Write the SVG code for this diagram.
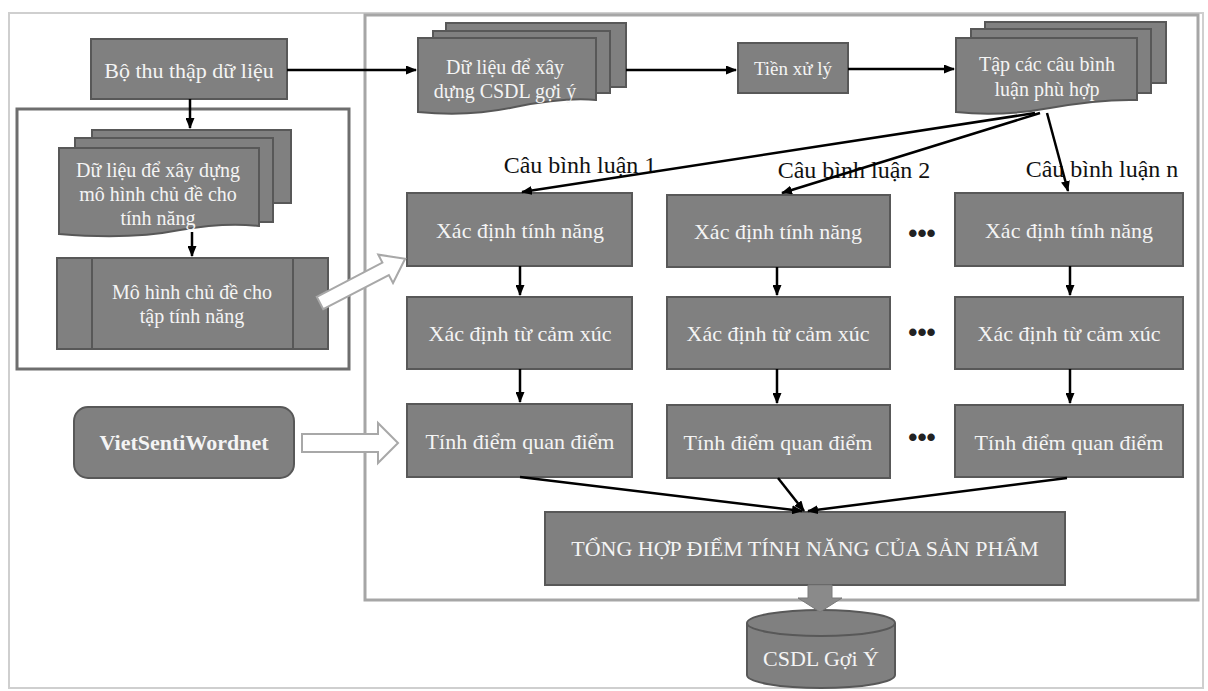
<svg xmlns="http://www.w3.org/2000/svg" width="1208" height="691" viewBox="0 0 1208 691">
<style>
.box{fill:#808080;stroke:#585858;stroke-width:2}
.t{font-family:"Liberation Serif",serif;fill:#f4f4f4;text-anchor:middle;dominant-baseline:central}
.t20{font-size:20px}
.t22{font-size:22px}
.lbl{font-family:"Liberation Serif",serif;font-size:24px;fill:#111;text-anchor:middle}
.dots{font-family:"Liberation Sans",sans-serif;font-size:26px;font-weight:bold;fill:#222;text-anchor:middle;dominant-baseline:central}
.con{fill:none;stroke:#000;stroke-width:2.5;marker-end:url(#ah)}
.hollow{fill:#fff;stroke:#a8a8a8;stroke-width:2}
</style>
<defs>
<marker id="ah" markerUnits="userSpaceOnUse" markerWidth="11" markerHeight="9" refX="10" refY="4.5" orient="auto">
<path d="M0,0 L11,4.5 L0,9 z" fill="#000"/>
</marker>
</defs>
<rect width="1208" height="691" fill="#fff"/>
<rect id="outer-frame" x="9" y="13" width="1194" height="675" fill="none" stroke="#cfcfcf" stroke-width="2"/>
<rect id="right-panel" x="365" y="15" width="833" height="585" fill="none" stroke="#a6a6a6" stroke-width="3"/>
<rect id="left-panel" x="17" y="109" width="332" height="260" fill="none" stroke="#6e6e6e" stroke-width="3"/>

<g id="bo-thu-thap">
<rect class="box" x="91" y="39" width="196" height="60"/>
<text class="t t22" x="189" y="70">Bộ thu thập dữ liệu</text>
</g>

<g id="du-lieu-mo-hinh">
<rect class="box" x="92" y="130" width="199" height="73"/>
<rect class="box" x="75" y="138" width="198" height="84"/>
<path class="box" d="M59,148 H259 V226 Q225,222 180,230 Q130,240 59,234 Z"/>
<text class="t t20" x="158" y="170">Dữ liệu để xây dựng</text>
<text class="t t20" x="158" y="194">mô hình chủ đề cho</text>
<text class="t t20" x="158" y="218">tính năng</text>
</g>

<g id="mo-hinh-chu-de">
<rect class="box" x="57" y="258" width="271" height="91"/>
<line x1="92" y1="258" x2="92" y2="349" stroke="#585858" stroke-width="2"/>
<line x1="293" y1="258" x2="293" y2="349" stroke="#585858" stroke-width="2"/>
<text class="t t20" x="192" y="292">Mô hình chủ đề cho</text>
<text class="t t20" x="192" y="316">tập tính năng</text>
</g>

<g id="vietsentiwordnet">
<rect class="box" x="74" y="407" width="220" height="71" rx="14" ry="14"/>
<text class="t t22" x="184" y="442" font-weight="bold">VietSentiWordnet</text>
</g>

<g id="du-lieu-csdl">
<rect class="box" x="446" y="23" width="180" height="64"/>
<rect class="box" x="433" y="31" width="177" height="62"/>
<path class="box" d="M418,38 H596 V100 Q565,97 515,107 Q470,117 418,112 Z"/>
<text class="t t20" x="505" y="67">Dữ liệu để xây</text>
<text class="t t20" x="505" y="91">dựng CSDL gợi ý</text>
</g>

<g id="tien-xu-ly">
<rect class="box" x="738" y="43" width="110" height="50"/>
<text class="t" font-size="19" x="793" y="68">Tiền xử lý</text>
</g>

<g id="tap-cau-binh-luan">
<rect class="box" x="985" y="22" width="181" height="61"/>
<rect class="box" x="971" y="29" width="180" height="64"/>
<path class="box" d="M956,38 H1137 V100 Q1100,99 1050,108 Q1000,117 956,112 Z"/>
<text class="t t20" x="1047" y="64">Tập các câu bình</text>
<text class="t t20" x="1047" y="89">luận phù hợp</text>
</g>

<g id="labels">
<text class="lbl" x="580" y="173">Câu bình luận 1</text>
<text class="lbl" x="854" y="178">Câu bình luận 2</text>
<text class="lbl" x="1102" y="177">Câu bình luận n</text>
</g>

<g id="col1-tinh-nang"><rect class="box" x="407" y="193" width="225" height="73"/><text class="t t22" x="520" y="230">Xác định tính năng</text></g>
<g id="col1-cam-xuc"><rect class="box" x="407" y="297" width="225" height="72"/><text class="t t22" x="520" y="333">Xác định từ cảm xúc</text></g>
<g id="col1-diem"><rect class="box" x="407" y="404" width="225" height="73"/><text class="t t22" x="520" y="441">Tính điểm quan điểm</text></g>

<g id="col2-tinh-nang"><rect class="box" x="667" y="195" width="223" height="72"/><text class="t t22" x="778" y="231">Xác định tính năng</text></g>
<g id="col2-cam-xuc"><rect class="box" x="667" y="297" width="223" height="72"/><text class="t t22" x="778" y="333">Xác định từ cảm xúc</text></g>
<g id="col2-diem"><rect class="box" x="667" y="405" width="223" height="73"/><text class="t t22" x="778" y="442">Tính điểm quan điểm</text></g>

<g id="coln-tinh-nang"><rect class="box" x="955" y="193" width="228" height="73"/><text class="t t22" x="1069" y="230">Xác định tính năng</text></g>
<g id="coln-cam-xuc"><rect class="box" x="955" y="297" width="228" height="72"/><text class="t t22" x="1069" y="333">Xác định từ cảm xúc</text></g>
<g id="coln-diem"><rect class="box" x="955" y="405" width="228" height="72"/><text class="t t22" x="1069" y="442">Tính điểm quan điểm</text></g>

<g id="ellipsis">
<text class="dots" x="922" y="233">•••</text>
<text class="dots" x="922" y="332">•••</text>
<text class="dots" x="922" y="437">•••</text>
</g>

<g id="tong-hop">
<rect class="box" x="545" y="512" width="520" height="73"/>
<text class="t t22" x="805" y="548">TỔNG HỢP ĐIỂM TÍNH NĂNG CỦA SẢN PHẨM</text>
</g>

<g id="csdl-goi-y">
<path class="box" d="M747,623 V675 A74,13 0 0 0 895,675 V623"/>
<ellipse class="box" cx="821" cy="623" rx="74" ry="13"/>
<text class="t t22" x="821" y="658">CSDL Gợi Ý</text>
</g>

<g id="connectors">
<path class="con" d="M287,70 H416"/>
<path class="con" d="M626,70 H736"/>
<path class="con" d="M848,69 H954"/>
<path class="con" d="M190,99 V128"/>
<path class="con" d="M192,232 V256"/>
<path class="con" d="M1035,113 L522,192"/>
<path class="con" d="M1040,113 L782,193"/>
<path class="con" d="M1047,113 L1068,191"/>
<path class="con" d="M520,266 V295"/>
<path class="con" d="M520,369 V402"/>
<path class="con" d="M777,267 V295"/>
<path class="con" d="M777,369 V403"/>
<path class="con" d="M1070,266 V295"/>
<path class="con" d="M1070,369 V403"/>
<path class="con" d="M520,477 L802,511"/>
<path class="con" d="M778,478 L804,511"/>
<path class="con" d="M1067,478 L808,511"/>
<path id="block-arrow" d="M808,585 H832 V598 H842 L820,612 L798,598 H808 Z" fill="#8a8a8a" stroke="#7a7a7a" stroke-width="1"/>
<path class="hollow" transform="translate(320,303) rotate(-27.5)" d="M0,-7 H74 V-16 L96,0 L74,16 V7 H0 Z"/>
<path class="hollow" d="M302,434 H378 V423 L398,443 L378,463 V452 H302 Z"/>
</g>
</svg>
